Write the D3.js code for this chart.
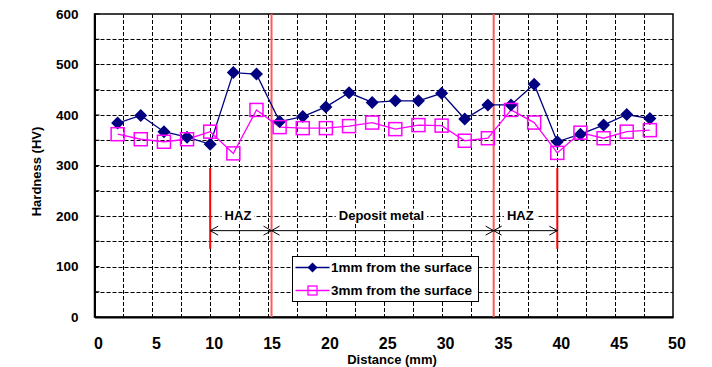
<!DOCTYPE html>
<html lang="en">
<head>
<meta charset="UTF-8">
<title>Hardness profile</title>
<script src="https://d3js.org/d3.v7.min.js"></script>
<style>
  body { margin: 0; background: #fff; }
  svg { display: block; font-family: "Liberation Sans", Arial, sans-serif; }
</style>
</head>
<body>
<script>
// data
const distance = [2, 4, 6, 8, 10, 12, 14, 16, 18, 20, 22, 24, 26, 28, 30, 32, 34, 36, 38, 40, 42, 44, 46, 48];
const hv1mm = [384, 399, 367, 356, 342, 484, 481, 387, 397, 416, 444, 425, 428, 428, 443, 392, 420, 420, 461, 347, 362, 380, 401, 393];
const hv3mm = [362, 352, 347, 352, 367, 324, 410, 376, 374, 374, 378, 385, 372, 380, 379, 349, 354, 410, 385, 325, 365, 354, 367, 370];
const seriesNames = ["1mm from the surface", "3mm from the surface"];
const xTicks = [0, 5, 10, 15, 20, 25, 30, 35, 40, 45, 50];
const yTicks = [0, 100, 200, 300, 400, 500, 600];
const fusionLines = [15.3, 34.5];   // full height
const hazLines = [10, 40];          // short
const hazLineRange = [135, 295];
const zones = [
  { label: "HAZ", from: 10, to: 15.3, at: 12.4 },
  { label: "Deposit metal", from: 15.3, to: 34.5, at: 24.8 },
  { label: "HAZ", from: 34.5, to: 40, at: 36.8 }
];
const arrowLevel = 171;
const zoneLabelLevel = 202;

const w = 712, h = 367;
const plotL = 94.5, plotR = 673, plotT = 14, plotB = 317;

const svg = d3.select("body").append("svg")
  .attr("width", w).attr("height", h);

const x = d3.scaleLinear().domain([0, 50]).range([plotL, plotR]);
const y = d3.scaleLinear().domain([0, 600]).range([plotB, plotT]);

// grid
const grid = svg.append("g")
  .attr("stroke", "#000").attr("stroke-width", 1).attr("stroke-dasharray", "4,2");
grid.selectAll("line.h").data(d3.range(50, 600, 50)).join("line")
  .attr("x1", plotL).attr("x2", plotR)
  .attr("y1", d => Math.round(y(d)) + 0.5).attr("y2", d => Math.round(y(d)) + 0.5);
grid.selectAll("line.v").data(d3.range(2.5, 50, 2.5)).join("line")
  .attr("y1", plotT).attr("y2", plotB)
  .attr("x1", d => Math.round(x(d)) + 0.5).attr("x2", d => Math.round(x(d)) + 0.5);

// plot frame
svg.append("rect")
  .attr("x", plotL).attr("y", plotT).attr("width", plotR - plotL).attr("height", plotB - plotT)
  .attr("fill", "none").attr("stroke", "#000").attr("stroke-width", 1.5);

// y axis
const yAxis = d3.axisLeft(y).tickValues(yTicks).tickSize(0).tickPadding(16);
svg.append("g").attr("transform", `translate(${plotL},0)`).call(yAxis)
  .call(g => g.select(".domain").attr("stroke-width", 2))
  .call(g => g.selectAll("text").attr("font-size", 13.5).attr("font-weight", "bold").attr("fill", "#000"));
svg.append("g").selectAll("line").data(d3.range(0, 601, 50)).join("line")
  .attr("x1", plotL).attr("x2", plotL + 5)
  .attr("y1", d => y(d)).attr("y2", d => y(d))
  .attr("stroke", "#000").attr("stroke-width", 1);

// x axis
const xAxis = d3.axisBottom(x).tickValues(xTicks).tickSize(0).tickPadding(21);
svg.append("g").attr("transform", `translate(0,${plotB})`).call(xAxis)
  .call(g => g.select(".domain").attr("stroke-width", 2))
  .call(g => g.selectAll("text").attr("font-size", 16).attr("font-weight", "bold").attr("fill", "#000").attr("dx", 3.5));

// axis titles
svg.append("text")
  .attr("transform", `translate(41,${(plotT + plotB) / 2 + 6}) rotate(-90)`)
  .attr("text-anchor", "middle").attr("font-size", 13).attr("font-weight", "bold")
  .text("Hardness (HV)");
svg.append("text")
  .attr("x", 392).attr("y", 364)
  .attr("text-anchor", "middle").attr("font-size", 13).attr("font-weight", "bold")
  .text("Distance (mm)");

// zone boundaries
svg.append("g").selectAll("line").data(fusionLines).join("line")
  .attr("x1", d => x(d)).attr("x2", d => x(d))
  .attr("y1", plotT).attr("y2", plotB)
  .attr("stroke", "#ff5a5a").attr("stroke-width", 2);
svg.append("g").selectAll("line").data(hazLines).join("line")
  .attr("x1", d => x(d)).attr("x2", d => x(d))
  .attr("y1", y(hazLineRange[1])).attr("y2", y(hazLineRange[0]))
  .attr("stroke", "#ff0000").attr("stroke-width", 2);

// zone arrows
const arrows = svg.append("g").attr("stroke", "#000").attr("stroke-width", 1).attr("fill", "none");
const ay = y(arrowLevel);
zones.forEach(z => {
  const x0 = x(z.from), x1 = x(z.to);
  arrows.append("line").attr("x1", x0).attr("x2", x1).attr("y1", ay).attr("y2", ay);
  arrows.append("path").attr("d", `M${x0 + 8},${ay - 4.5}L${x0},${ay}L${x0 + 8},${ay + 4.5}`);
  arrows.append("path").attr("d", `M${x1 - 8},${ay - 4.5}L${x1},${ay}L${x1 - 8},${ay + 4.5}`);
});

// zone labels with white background
const zl = svg.append("g").selectAll("g").data(zones).join("g")
  .attr("transform", d => `translate(${x(d.at)},${y(zoneLabelLevel)})`);
zl.append("text")
  .attr("text-anchor", "middle").attr("dy", "0.36em")
  .attr("font-size", 13).attr("font-weight", "bold")
  .text(d => d.label);
zl.each(function () {
  const g = d3.select(this);
  const b = g.select("text").node().getBBox();
  g.insert("rect", "text")
    .attr("x", b.x - 3).attr("y", b.y + 1).attr("width", b.width + 6).attr("height", b.height - 2)
    .attr("fill", "#fff");
});

// series
const pts1 = distance.map((d, i) => [d, hv1mm[i]]);
const pts2 = distance.map((d, i) => [d, hv3mm[i]]);
const line = d3.line().x(d => x(d[0])).y(d => y(d[1]));

svg.append("path").datum(pts1).attr("d", line)
  .attr("fill", "none").attr("stroke", "#000080").attr("stroke-width", 1.3);
svg.append("path").datum(pts2).attr("d", line)
  .attr("fill", "none").attr("stroke", "#ff00ff").attr("stroke-width", 1.3);

const diamond = r => `M0,${-r}L${r},0L0,${r}L${-r},0Z`;
svg.append("g").selectAll("path").data(pts1).join("path")
  .attr("transform", d => `translate(${x(d[0])},${y(d[1])})`)
  .attr("d", diamond(6.5)).attr("fill", "#000080");
svg.append("g").selectAll("rect").data(pts2).join("rect")
  .attr("x", d => x(d[0]) - 6.5).attr("y", d => y(d[1]) - 6.5)
  .attr("width", 13).attr("height", 13)
  .attr("fill", "none").attr("stroke", "#ff00ff").attr("stroke-width", 1.5);

// legend
const legend = svg.append("g").attr("transform", "translate(292.5,256.5)");
legend.append("rect").attr("width", 186).attr("height", 45)
  .attr("fill", "#fff").attr("stroke", "#000").attr("stroke-width", 1);
const rows = legend.selectAll("g").data(seriesNames).join("g")
  .attr("transform", (d, i) => `translate(0,${11 + i * 23})`);
rows.append("line").attr("x1", 3).attr("x2", 37)
  .attr("stroke", (d, i) => i ? "#ff00ff" : "#000080").attr("stroke-width", 1.3);
rows.filter((d, i) => i === 0).append("path")
  .attr("transform", "translate(20,0)").attr("d", diamond(5)).attr("fill", "#000080");
rows.filter((d, i) => i === 1).append("rect")
  .attr("x", 15.5).attr("y", -4.5).attr("width", 9).attr("height", 9)
  .attr("fill", "none").attr("stroke", "#ff00ff").attr("stroke-width", 1.3);
rows.append("text").attr("x", 38.5).attr("dy", "0.36em")
  .attr("font-size", 13.5).attr("font-weight", "bold")
  .text(d => d);
</script>
</body>
</html>
